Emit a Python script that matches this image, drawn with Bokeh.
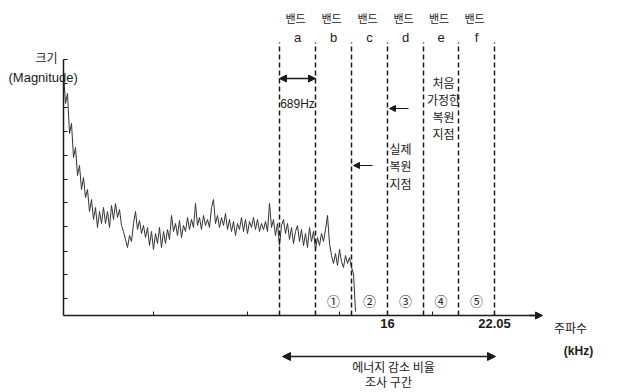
from bokeh.plotting import figure
from bokeh.models import Range1d, FixedTicker, Label, Arrow, NormalHead
from bokeh.embed import file_html
from bokeh.resources import INLINE

# ---- data (schematic x units; 36 units = one 689 Hz band) ----
magnitude = [242, 212, 222, 182, 192, 158, 168, 140, 150, 126,
             138, 118, 126, 104, 116, 96, 108, 88, 104, 92,
             108, 92, 104, 88, 110, 96, 112, 98, 106, 90,
             84, 76, 68, 80, 74, 92, 104, 86, 95, 82,
             90, 78, 88, 70, 84, 66, 82, 72, 88, 68,
             84, 72, 86, 76, 100, 84, 92, 80, 95, 78,
             90, 84, 98, 86, 96, 88, 112, 90, 98, 86,
             100, 90, 96, 88, 108, 116, 92, 100, 88, 98,
             90, 102, 86, 96, 84, 94, 80, 92, 86, 98,
             84, 96, 82, 94, 88, 98, 86, 96, 84, 92,
             86, 94, 84, 112, 88, 96, 80, 92, 70, 90,
             96, 82, 92, 76, 88, 72, 84, 90, 74, 86,
             70, 82, 68, 88, 74, 84, 66, 78, 70, 82,
             74, 86, 100, 72, 60, 52, 62, 50, 66, 54,
             48, 60, 52, 58, 48, 42, 4]
freq_pos = [2 * i for i in range(len(magnitude))]

band_edges = [216, 252, 288, 324, 360, 395, 431]
band_letters = ["a", "b", "c", "d", "e", "f"]
band_numbers = ["①", "②", "③", "④", "⑤"]
x_major_ticks = [324, 431]
x_tick_labels = {324: "16", 431: "22.05"}
x_minor_ticks = [90, 184, 276, 369]
y_ticks = [17, 41, 64, 89, 113, 136, 160, 184, 208, 232, 256]

KR = "Noto Sans CJK KR"
LAT = "Liberation Sans"
INK = "#1a1a1a"

p = figure(width=622, height=392, x_range=Range1d(-63, 559), y_range=Range1d(-77, 315),
           output_backend="svg", toolbar_location=None,
           min_border_left=0, min_border_right=0, min_border_top=0, min_border_bottom=0)
p.outline_line_color = None
p.xgrid.visible = False
p.ygrid.visible = False
p.background_fill_color = "white"

# y axis (fixed at x = 0)
p.yaxis.fixed_location = 0
p.yaxis.ticker = FixedTicker(ticks=[], minor_ticks=y_ticks)
p.yaxis.bounds = (0, 256)
p.yaxis.major_tick_line_color = None
p.yaxis.minor_tick_in = 4
p.yaxis.minor_tick_out = 0
p.yaxis.minor_tick_line_color = INK
p.yaxis.axis_line_color = INK
p.yaxis.axis_line_width = 1.5

# x axis (fixed at y = 0)
p.xaxis.fixed_location = 0
p.xaxis.ticker = FixedTicker(ticks=x_major_ticks, minor_ticks=x_minor_ticks)
p.xaxis.major_label_overrides = x_tick_labels
p.xaxis.bounds = (0, 474)
p.xaxis.major_tick_in = 4
p.xaxis.major_tick_out = 0
p.xaxis.minor_tick_in = 4
p.xaxis.minor_tick_out = 0
p.xaxis.minor_tick_line_color = INK
p.xaxis.axis_line_color = INK
p.xaxis.major_tick_line_color = INK
p.xaxis.axis_line_width = 1.5
p.xaxis.major_label_text_font = LAT
p.xaxis.major_label_text_font_size = "13px"
p.xaxis.major_label_text_font_style = "bold"
p.xaxis.major_label_text_color = INK
p.xaxis.major_label_standoff = 3

# spectrum
p.line(freq_pos, magnitude, line_color="#333333", line_width=1)

# band boundaries
p.segment(x0=band_edges, y0=[0] * len(band_edges), x1=band_edges, y1=[273] * len(band_edges),
          line_color=INK, line_width=1.5, line_dash="5 3")

mids = [(band_edges[i] + band_edges[i + 1]) / 2 for i in range(len(band_edges) - 1)]

for i, m in enumerate(mids):
    p.add_layout(Label(x=m - 2, y=298, text="밴드", text_font=KR, text_font_size="11px",
                       text_align="center", text_baseline="middle", text_color=INK))
    p.add_layout(Label(x=m, y=278, text=band_letters[i], text_font=LAT, text_font_size="13px",
                       text_align="center", text_baseline="middle", text_color=INK))
for i, m in enumerate(mids[1:]):
    p.add_layout(Label(x=m, y=15, text=band_numbers[i], text_font=KR, text_font_size="13px",
                       text_align="center", text_baseline="middle", text_color=INK))

# 689Hz arrow
p.add_layout(Arrow(x_start=band_edges[0], y_start=237, x_end=band_edges[1], y_end=237,
                   line_color=INK, line_width=1.5,
                   start=NormalHead(size=7, fill_color=INK, line_color=INK),
                   end=NormalHead(size=7, fill_color=INK, line_color=INK)))
p.add_layout(Label(x=mids[0], y=212, text="689Hz", text_font=LAT, text_font_size="12px",
                   text_align="center", text_baseline="middle", text_color=INK))

# annotation arrows
p.add_layout(Arrow(x_start=345, y_start=207, x_end=band_edges[3] + 2, y_end=207,
                   line_color=INK, line_width=1.2,
                   end=NormalHead(size=6, fill_color=INK, line_color=INK)))
p.add_layout(Arrow(x_start=309, y_start=150, x_end=band_edges[2] + 2, y_end=150,
                   line_color=INK, line_width=1.2,
                   end=NormalHead(size=6, fill_color=INK, line_color=INK)))

for txt, yy in zip(["처음", "가정한", "복원", "지점"], [233, 216, 199, 182]):
    p.add_layout(Label(x=380, y=yy, text=txt, text_font=KR, text_font_size="12px",
                       text_align="center", text_baseline="middle", text_color=INK))
for txt, yy in zip(["실제", "복원", "지점"], [167, 150, 132]):
    p.add_layout(Label(x=337, y=yy, text=txt, text_font=KR, text_font_size="12px",
                       text_align="center", text_baseline="middle", text_color=INK))

# axis titles
p.add_layout(Label(x=-17, y=258, text="크기", text_font=KR, text_font_size="12px",
                   text_align="center", text_baseline="middle", text_color=INK))
p.add_layout(Label(x=-55, y=238, text="(Magnitude)", text_font=LAT, text_font_size="13px",
                   text_align="left", text_baseline="middle", text_color=INK))

# x axis arrow head
p.add_layout(Arrow(x_start=466, y_start=0, x_end=479, y_end=0, line_color=INK, line_width=1.5,
                   end=NormalHead(size=7, fill_color=INK, line_color=INK)))
p.add_layout(Label(x=507, y=-12, text="주파수", text_font=KR, text_font_size="12px",
                   text_align="center", text_baseline="middle", text_color=INK))
p.add_layout(Label(x=515, y=-35, text="(kHz)", text_font=LAT, text_font_size="12px",
                   text_font_style="bold", text_align="center", text_baseline="middle", text_color=INK))

# bottom range arrow
p.add_layout(Arrow(x_start=219, y_start=-41, x_end=432, y_end=-41,
                   line_color=INK, line_width=1.5,
                   start=NormalHead(size=8, fill_color=INK, line_color=INK),
                   end=NormalHead(size=8, fill_color=INK, line_color=INK)))
p.add_layout(Label(x=330, y=-51, text="에너지 감소 비율", text_font=KR, text_font_size="12px",
                   text_align="center", text_baseline="middle", text_color=INK))
p.add_layout(Label(x=325, y=-66, text="조사 구간", text_font=KR, text_font_size="12px",
                   text_align="center", text_baseline="middle", text_color=INK))

open("out.html", "w").write(file_html(p, INLINE))
